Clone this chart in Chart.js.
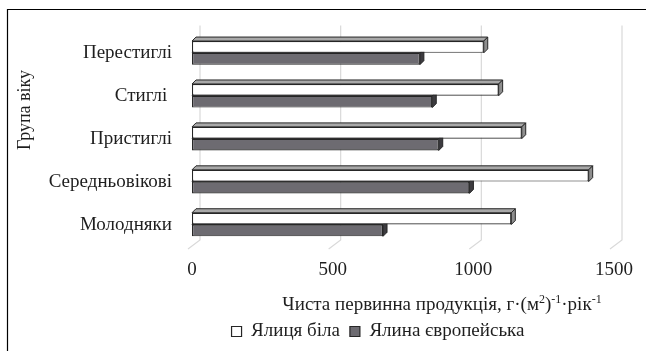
<!DOCTYPE html>
<html>
<head>
<meta charset="utf-8">
<script src="https://cdn.jsdelivr.net/npm/chart.js@4.4.0/dist/chart.umd.min.js"></script>
<style>
  html, body { margin: 0; padding: 0; background: #ffffff; }
  canvas { display: block; }
</style>
</head>
<body>
<canvas id="npp" width="646" height="351"></canvas>
<script>
// Age groups (top to bottom) and net primary production per species
const ageGroups = ['Перестиглі', 'Стиглі ', 'Пристиглі', 'Середньовікові', 'Молодняки'];
const firValues = [1037, 1090, 1172, 1410, 1135];     // Ялиця біла
const spruceValues = [810, 854, 877, 986, 679];       // Ялина європейська
const seriesNames = ['Ялиця біла', 'Ялина європейська'];
const xTicks = [0, 500, 1000, 1500];
const yTitle = 'Група віку';
// axis title pieces: [text, superscript?]
const xTitleParts = [
  ['Чиста первинна продукція, г·(м', false],
  ['2', true],
  [')', false],
  ['-1', true],
  ['·рік', false],
  ['-1', true]
];

const FONT = '"Liberation Serif", "Times New Roman", serif';
const TEXT = '#1e1e1e';
const DEPTH = 4;
const LEGEND_SHIFT = 70;

const styles = [
  { front: '#ffffff', top: '#a8a8a8', side: '#8e8e8e' },
  { front: '#6d6b71', top: '#8a888d', side: '#3c3b3f' }
];

// Oblique 3D look: back wall / floor grid and bar depth faces
const scene3d = {
  id: 'scene3d',
  afterLayout(chart) {
    // legend sits a little right of the canvas centre
    if (chart.legend) {
      chart.legend.left += LEGEND_SHIFT;
      chart.legend.right += LEGEND_SHIFT;
    }
  },
  beforeDraw(chart) {
    const ctx = chart.ctx;
    ctx.save();
    ctx.strokeStyle = '#000000';
    ctx.lineWidth = 1.2;
    ctx.beginPath();
    ctx.moveTo(7.5, chart.height);
    ctx.lineTo(7.5, 9.5);
    ctx.lineTo(chart.width, 9.5);
    ctx.stroke();
    ctx.restore();
  },
  beforeDatasetsDraw(chart) {
    const ctx = chart.ctx;
    const area = chart.chartArea;
    const xs = chart.scales.x;
    ctx.save();
    ctx.strokeStyle = '#d9d9d9';
    ctx.lineWidth = 1.2;
    xTicks.forEach(v => {
      const px = xs.getPixelForValue(v);
      ctx.beginPath();
      ctx.moveTo(px + 8, area.top - 6);
      ctx.lineTo(px + 8, area.bottom - 6);
      ctx.lineTo(px - 4, area.bottom + 3);
      ctx.stroke();
    });
    ctx.restore();
  },
  afterDatasetDraw(chart, args) {
    const ctx = chart.ctx;
    const st = styles[args.index];
    ctx.save();
    ctx.strokeStyle = '#262626';
    ctx.lineWidth = 1;
    ctx.lineJoin = 'round';
    args.meta.data.forEach(el => {
      const p = el.getProps(['x', 'y', 'base', 'height'], true);
      const x0 = Math.min(p.base, p.x), x1 = Math.max(p.base, p.x);
      const yt = p.y - p.height / 2, yb = p.y + p.height / 2;
      // top face
      ctx.beginPath();
      ctx.moveTo(x0, yt);
      ctx.lineTo(x0 + DEPTH, yt - DEPTH);
      ctx.lineTo(x1 + DEPTH, yt - DEPTH);
      ctx.lineTo(x1, yt);
      ctx.closePath();
      ctx.fillStyle = st.top;
      ctx.fill();
      ctx.stroke();
      // end face
      ctx.beginPath();
      ctx.moveTo(x1, yt);
      ctx.lineTo(x1 + DEPTH, yt - DEPTH);
      ctx.lineTo(x1 + DEPTH, yb - DEPTH);
      ctx.lineTo(x1, yb);
      ctx.closePath();
      ctx.fillStyle = st.side;
      ctx.fill();
      ctx.stroke();
    });
    ctx.restore();
  },
  afterDraw(chart) {
    const ctx = chart.ctx;
    ctx.save();
    ctx.fillStyle = TEXT;
    // vertical axis title
    ctx.font = '18px ' + FONT;
    ctx.textAlign = 'center';
    ctx.textBaseline = 'middle';
    ctx.translate(25, 110);
    ctx.rotate(-Math.PI / 2);
    ctx.fillText(yTitle, 0, 0);
    ctx.restore();

    // horizontal axis title with superscripts
    ctx.save();
    ctx.fillStyle = TEXT;
    ctx.textBaseline = 'alphabetic';
    ctx.textAlign = 'left';
    const mainFont = '19px ' + FONT, supFont = '12px ' + FONT;
    let total = 0;
    xTitleParts.forEach(([t, sup]) => {
      ctx.font = sup ? supFont : mainFont;
      total += ctx.measureText(t).width;
    });
    let x = 442 - total / 2;
    const base = 310;
    xTitleParts.forEach(([t, sup]) => {
      ctx.font = sup ? supFont : mainFont;
      ctx.fillText(t, x, sup ? base - 7 : base);
      x += ctx.measureText(t).width;
    });
    ctx.restore();
  }
};

new Chart(document.getElementById('npp'), {
  type: 'bar',
  data: {
    labels: ageGroups,
    datasets: [
      {
        label: seriesNames[0],
        data: firValues,
        backgroundColor: styles[0].front,
        borderColor: '#262626',
        borderWidth: 1.2,
        borderSkipped: false
      },
      {
        label: seriesNames[1],
        data: spruceValues,
        backgroundColor: styles[1].front,
        borderColor: '#262626',
        borderWidth: 1.2,
        borderSkipped: false
      }
    ]
  },
  options: {
    indexAxis: 'y',
    responsive: false,
    animation: false,
    devicePixelRatio: 1,
    categoryPercentage: 0.55,
    barPercentage: 1,
    layout: { padding: { top: 26, right: 30, bottom: 0, left: 0 } },
    scales: {
      x: {
        min: 0,
        max: 1500,
        afterBuildTicks: s => { s.ticks = xTicks.map(v => ({ value: v })); },
        afterFit: s => { s.height = 66; },
        grid: { display: false, drawTicks: false },
        border: { display: false },
        ticks: {
          padding: 13,
          color: TEXT,
          font: { family: FONT, size: 19 },
          callback: v => String(v)
        }
      },
      y: {
        afterFit: s => { s.width = 192; },
        grid: { display: false, drawTicks: false },
        border: { display: false },
        ticks: { padding: 20, color: TEXT, font: { family: FONT, size: 19 } }
      }
    },
    plugins: {
      tooltip: { enabled: false },
      legend: {
        position: 'bottom',
        labels: {
          boxWidth: 10,
          boxHeight: 10,
          padding: 10,
          color: TEXT,
          font: { family: FONT, size: 19 }
        }
      }
    }
  },
  plugins: [scene3d]
});
</script>
</body>
</html>
